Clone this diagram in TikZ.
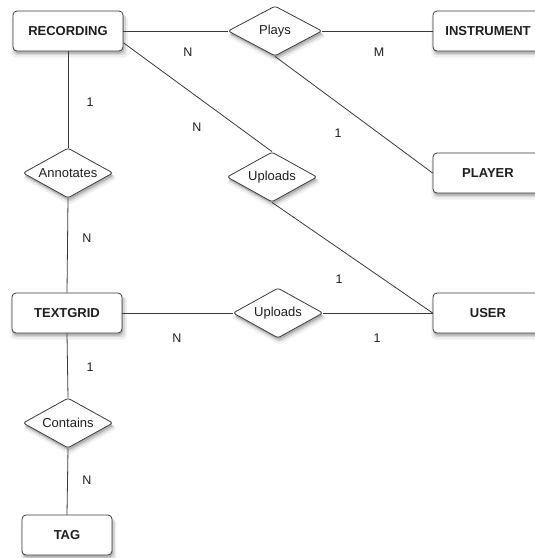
\documentclass[tikz,border=0pt]{standalone}
\usepackage{fontspec}
\setmainfont{Liberation Sans}
\usetikzlibrary{shapes.geometric,shadows}
\definecolor{linec}{HTML}{3A3A3A}
\definecolor{textc}{HTML}{1E1E1E}
\tikzset{
  softshadow/.style={
    general shadow={fill=black, opacity=0.06, shadow xshift=1.5pt, shadow yshift=-5pt, shadow scale=1.06},
    general shadow={fill=black, opacity=0.10, shadow xshift=1.5pt, shadow yshift=-3.5pt, shadow scale=1.03},
    general shadow={fill=black, opacity=0.16, shadow xshift=1pt, shadow yshift=-2.5pt}
  },
  entity/.style={draw=linec, line width=0.8pt, fill=white, rounded corners=4pt,
    minimum width=110pt, minimum height=40pt, inner sep=0pt, softshadow,
    font=\fontsize{13}{15}\selectfont\bfseries, text=textc},
  smallentity/.style={entity, minimum width=90pt},
  relation/.style={draw=linec, line width=0.8pt, fill=white, diamond, aspect=1.8,
    rounded corners=2.5pt, minimum width=90pt, minimum height=50pt, inner sep=0pt,
    softshadow, font=\fontsize{13}{15}\selectfont, text=textc},
  conn/.style={draw=linec, line width=0.8pt},
  card/.style={font=\fontsize{12.5}{14}\selectfont, text=textc, inner sep=0pt}
}
\begin{document}
\begin{tikzpicture}[x=1pt, y=-1pt]
\useasboundingbox (0,0) rectangle (535,558);
\fill[white] (0,0) rectangle (535,558);
% entities
\node[entity] (rec) at (68,31) {RECORDING};
\node[entity] (inst) at (488,31) {INSTRUMENT};
\node[entity] (player) at (488,173) {PLAYER};
\node[entity] (user) at (488,313) {USER};
\node[entity] (tg) at (67,313) {TEXTGRID};
\node[smallentity] (tag) at (67,535) {TAG};
% relations
\node[relation, minimum width=94pt] (plays) at (275,31) {Plays};
\node[relation] (ann) at (68,173) {Annotates};
\node[relation] (up1) at (272,177) {Uploads};
\node[relation] (up2) at (278,313) {Uploads};
\node[relation] (cont) at (68,423) {Contains};
% connectors
\draw[conn] (rec.east) -- (plays.west);
\draw[conn] (plays.east) -- (inst.west);
\draw[conn] (plays.south) -- (player.west);
\draw[conn] (rec.-12) -- (up1.north);
\draw[conn] (up1.south) -- (user.west);
\draw[conn] (rec.south) -- (ann.north);
\draw[conn] (ann.south) -- (tg.north);
\draw[conn] (tg.east) -- (up2.west);
\draw[conn] (up2.east) -- (user.west);
\draw[conn] (tg.south) -- (cont.north);
\draw[conn] (cont.south) -- (tag.north);
% cardinalities
\node[card] (c1) at (188,52) {N};
\node[card] (c2) at (379,52) {M};
\node[card] (c3) at (90,102) {1};
\node[card] (c4) at (197,127) {N};
\node[card] (c5) at (338,133) {1};
\node[card] (c6) at (87,238) {N};
\node[card] (c7) at (339,279) {1};
\node[card] (c8) at (177,338) {N};
\node[card] (c9) at (377,338) {1};
\node[card] (c10) at (90,367) {1};
\node[card] (c11) at (87,480) {N};
\end{tikzpicture}
\end{document}
